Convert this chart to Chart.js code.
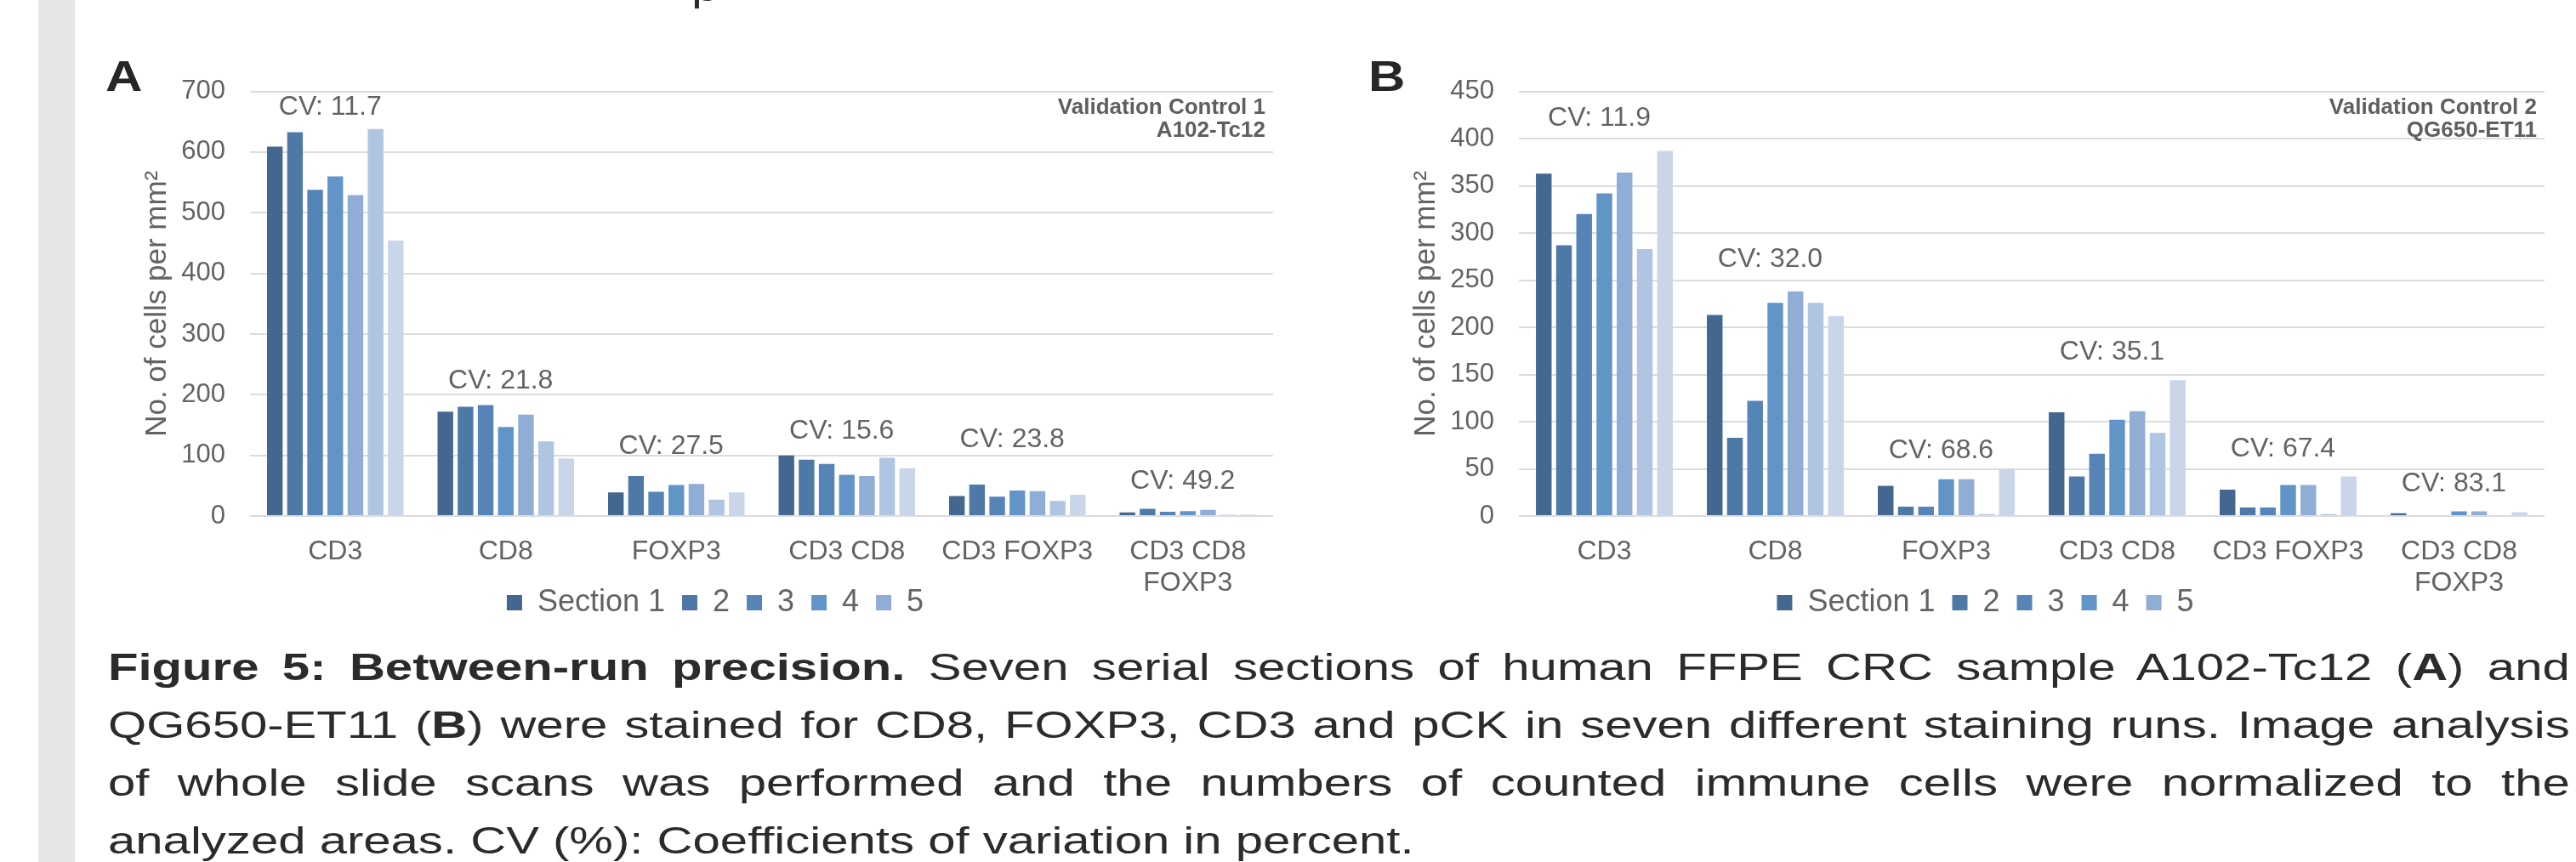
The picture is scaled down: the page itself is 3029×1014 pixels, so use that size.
<!DOCTYPE html>
<html>
<head>
<meta charset="utf-8">
<script src="https://cdn.jsdelivr.net/npm/chart.js@4.4.0/dist/chart.umd.min.js"></script>
<style>
html,body{margin:0;padding:0;background:#ffffff;}
body{width:3029px;height:1014px;position:relative;overflow:hidden;font-family:"Liberation Sans",Arial,sans-serif;}
#strip{position:absolute;left:45px;top:0;width:43px;height:1014px;background:#e6e6e6;}
.letter{position:absolute;font-weight:bold;font-size:50px;line-height:50px;color:#262626;transform:scaleX(1.2);transform-origin:0 0;}
.chart-box{position:absolute;top:60px;height:717px;}
#caption{position:absolute;left:127px;top:751px;width:2193px;font-size:44px;line-height:68px;color:#2b2b2b;transform:scaleX(1.32);transform-origin:0 0;}
#caption .j{text-align:justify;text-align-last:justify;}
#caption .l{text-align:left;}
#topfrag{position:absolute;left:813px;top:-36px;font-size:44px;line-height:44px;color:#2b2b2b;transform:scaleX(1.32);transform-origin:0 0;}
</style>
</head>
<body>
<div id="strip"></div>
<div id="topfrag">p</div>
<div class="letter" style="left:124px;top:65px;">A</div>
<div class="letter" style="left:1609px;top:65px;">B</div>
<div class="chart-box" style="left:150px;width:1357px;"><canvas id="chartA"></canvas></div>
<div class="chart-box" style="left:1642px;width:1360px;"><canvas id="chartB"></canvas></div>
<div id="caption">
<div class="j"><b>Figure 5: Between-run precision.</b> Seven serial sections of human FFPE CRC sample A102-Tc12 (<b>A</b>) and</div>
<div class="j">QG650-ET11 (<b>B</b>) were stained for CD8, FOXP3, CD3 and pCK in seven different staining runs. Image analysis</div>
<div class="j">of whole slide scans was performed and the numbers of counted immune cells were normalized to the</div>
<div class="l">analyzed areas. CV (%): Coefficients of variation in percent.</div>
</div>
<script>
// ---- data ----
const categories = ['CD3', 'CD8', 'FOXP3', 'CD3 CD8', 'CD3 FOXP3', ['CD3 CD8', 'FOXP3']];
const sectionLabels = ['Section 1', '2', '3', '4', '5', '6', '7'];
const sectionColors = ['#44678f', '#4e79a7', '#5784b7', '#6394c8', '#8fadd5', '#b0c5e1', '#c9d6ea'];

// Panel A: Validation Control 1, A102-Tc12
const sec1A = [609, 172, 39, 100, 33, 6];
const sec2A = [633, 180, 66, 93, 52, 12];
const sec3A = [538, 183, 40, 86, 32, 7];
const sec4A = [560, 147, 51, 68, 42, 8];
const sec5A = [529, 167, 53, 66, 41, 10];
const sec6A = [638, 123, 27, 96, 25, 2];
const sec7A = [454, 95, 39, 79, 35, 2];
const cvTextA = ['CV: 11.7', 'CV: 21.8', 'CV: 27.5', 'CV: 15.6', 'CV: 23.8', 'CV: 49.2'];
const cvAtA = [674, 223, 114, 140, 126, 57];
const titleA = ['Validation Control 1', 'A102-Tc12'];
const yMaxA = 700, yStepA = 100;

// Panel B: Validation Control 2, QG650-ET11
const sec1B = [363, 213, 32, 110, 28, 3];
const sec2B = [287, 83, 10, 42, 9, 0];
const sec3B = [320, 122, 10, 66, 9, 0];
const sec4B = [342, 226, 39, 102, 33, 5];
const sec5B = [364, 238, 39, 111, 33, 5];
const sec6B = [283, 226, 2, 88, 2, 0];
const sec7B = [387, 212, 49, 144, 42, 4];
const cvTextB = ['CV: 11.9', 'CV: 32.0', 'CV: 68.6', 'CV: 35.1', 'CV: 67.4', 'CV: 83.1'];
const cvAtB = [422, 272, 69, 174, 71, 34];
const titleB = ['Validation Control 2', 'QG650-ET11'];
const yMaxB = 450, yStepB = 50;

const yTitle = 'No. of cells per mm\u00B2';

// ---- rendering ----
const FONT = '"Liberation Sans", Arial, sans-serif';
const TXT = '#636363';
Chart.defaults.font.family = FONT;

const annotPlugin = {
  id: 'annot',
  afterLayout(chart) {
    // pull the legend up closer to the category labels
    const lg = chart.legend;
    if (lg) { lg.top -= 40; lg.bottom -= 40; }
  },
  afterDatasetsDraw(chart, args, opts) {
    const {ctx, chartArea, scales} = chart;
    const x = scales.x, y = scales.y;
    ctx.save();
    ctx.fillStyle = TXT;
    ctx.font = '32px ' + FONT;
    ctx.textAlign = 'center';
    ctx.textBaseline = 'middle';
    opts.cvText.forEach((t, i) => {
      ctx.fillText(t, x.getPixelForValue(i) - 6, y.getPixelForValue(opts.cvAt[i]));
    });
    ctx.font = 'bold 26px ' + FONT;
    ctx.fillStyle = '#5f5f5f';
    ctx.textAlign = 'right';
    ctx.fillText(opts.title[0], chartArea.right - 9, chartArea.top + 19);
    ctx.fillText(opts.title[1], chartArea.right - 9, chartArea.top + 46);
    ctx.restore();
  }
};

function makeChart(id, sets, yMax, yStep, cvText, cvAt, title) {
  const datasets = sets.map((d, i) => ({
    label: sectionLabels[i],
    data: d,
    backgroundColor: sectionColors[i],
    borderWidth: 0,
    categoryPercentage: 0.827,
    barPercentage: 0.776
  }));
  return new Chart(document.getElementById(id), {
    type: 'bar',
    data: {labels: categories, datasets},
    plugins: [annotPlugin],
    options: {
      responsive: true,
      maintainAspectRatio: false,
      animation: false,
      devicePixelRatio: 1,
      layout: {padding: {left: 35, right: 10, top: 45, bottom: 0}},
      plugins: {
        tooltip: {enabled: false},
        legend: {
          position: 'bottom',
          labels: {
            filter: (item) => item.datasetIndex < 5,
            boxWidth: 18,
            boxHeight: 18,
            padding: 20,
            color: TXT,
            font: {size: 36}
          }
        },
        annot: {cvText, cvAt, title}
      },
      scales: {
        x: {
          grid: {display: false, drawTicks: false},
          border: {display: false},
          ticks: {color: TXT, font: {size: 32, lineHeight: 1.15}, padding: 24, maxRotation: 0, autoSkip: false},
          afterFit(scale) { scale.height = 104; }
        },
        y: {
          min: 0,
          max: yMax,
          grid: {color: '#dcdcdc', lineWidth: 2, drawTicks: false},
          border: {display: false},
          ticks: {stepSize: yStep, color: TXT, font: {size: 31}, padding: 29},
          title: {display: true, text: yTitle, color: TXT, font: {size: 35}, padding: {top: -21, bottom: 0}},
          afterFit(scale) { scale.width = 109; }
        }
      }
    }
  });
}

makeChart('chartA', [sec1A, sec2A, sec3A, sec4A, sec5A, sec6A, sec7A], yMaxA, yStepA, cvTextA, cvAtA, titleA);
makeChart('chartB', [sec1B, sec2B, sec3B, sec4B, sec5B, sec6B, sec7B], yMaxB, yStepB, cvTextB, cvAtB, titleB);
</script>
</body>
</html>
